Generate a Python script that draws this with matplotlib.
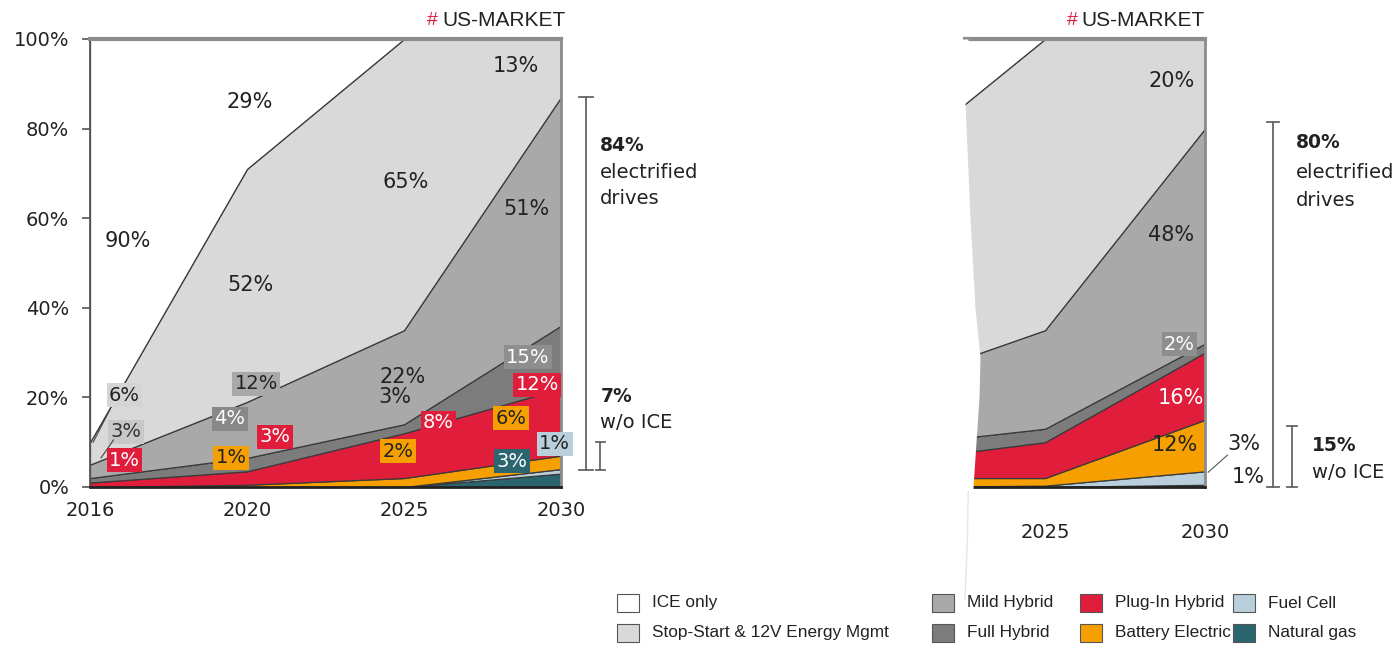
import matplotlib
matplotlib.use("Agg")
import matplotlib.pyplot as plt
from matplotlib.patches import Rectangle

# ---- data (share of US market, %) ----
series_names = ['Natural gas', 'Fuel Cell', 'Battery Electric', 'Plug-In Hybrid',
                'Full Hybrid', 'Mild Hybrid', 'Stop-Start & 12V Energy Mgmt', 'ICE only']
series_colors = ['#2b6670', '#b9cfdc', '#f5a000', '#e11d3c',
                 '#7c7c7c', '#a9a9a9', '#d9d9d9', '#ffffff']

years_left = ['2016', '2020', '2025', '2030']
natural_gas_left = [0, 0, 0, 3]
fuel_cell_left = [0, 0, 0, 1]
battery_left = [0, 0.5, 2, 3]
plugin_left = [1, 3, 10, 15]
full_hybrid_left = [1, 3, 2, 14]
mild_hybrid_left = [3, 12.5, 21, 51]
stop_start_left = [5, 52, 65, 13]
ice_left = [90, 29, 0, 0]

years_right = ['2020', '2025', '2030']
natural_gas_right = [0, 0, 0.5]
fuel_cell_right = [0, 0.3, 3]
battery_right = [2, 1.7, 11.5]
plugin_right = [3.5, 8, 15]
full_hybrid_right = [3.5, 3, 2]
mild_hybrid_right = [13.5, 22, 48]
stop_start_right = [48.5, 65, 20]
ice_right = [29, 0, 0]

# value labels: (text, x, y, text colour, box colour or None)
labels_left = [
    ('90%', 0.24, 55, '#222', None), ('29%', 1.02, 86, '#222', None),
    ('52%', 1.02, 45, '#222', None), ('65%', 2.01, 68, '#222', None),
    ('13%', 2.71, 94, '#222', None), ('51%', 2.78, 62, '#222', None),
    ('6%', 0.22, 20.5, '#222', '#d4d4d4'), ('3%', 0.23, 12.3, '#333', '#c8c8c8'),
    ('1%', 0.22, 6.0, 'white', '#e11d3c'), ('4%', 0.89, 15.2, 'white', '#888888'),
    ('12%', 1.06, 23, '#222', '#a9a9a9'), ('1%', 0.90, 6.5, '#222', '#f5a000'),
    ('3%', 1.18, 11.2, 'white', '#e11d3c'), ('22%', 1.99, 24.6, '#222', None),
    ('3%', 1.94, 20.1, '#222', None), ('2%', 1.96, 8.0, '#222', '#f5a000'),
    ('8%', 2.22, 14.3, 'white', '#e11d3c'), ('15%', 2.79, 29.0, 'white', '#8e8e8e'),
    ('12%', 2.85, 22.8, 'white', '#e11d3c'), ('6%', 2.68, 15.4, '#222', '#f5a000'),
    ('1%', 2.96, 9.6, '#222', '#b9cfdc'), ('3%', 2.69, 5.8, 'white', '#2b6670'),
]
labels_right = [
    ('20%', 2.79, 90.6, '#222', None), ('48%', 2.79, 56.3, '#222', None),
    ('2%', 2.84, 31.9, 'white', '#8e8e8e'), ('16%', 2.85, 19.9, 'white', None),
    ('12%', 2.81, 9.4, '#222', None), ('3%', 3.24, 9.6, '#222', None),
    ('1%', 3.27, 2.2, '#222', None),
]

W, H = 1394, 645
fig = plt.figure(figsize=(W / 100, H / 100), dpi=100)
ax1 = fig.add_axes([90 / W, 1 - 487 / H, 471 / W, 448 / H])
ax2 = fig.add_axes([965 / W, 1 - 487 / H, 240 / W, 448 / H])

left_stack = [natural_gas_left, fuel_cell_left, battery_left, plugin_left,
              full_hybrid_left, mild_hybrid_left, stop_start_left, ice_left]
right_stack = [natural_gas_right, fuel_cell_right, battery_right, plugin_right,
               full_hybrid_right, mild_hybrid_right, stop_start_right, ice_right]

x_left = list(range(len(years_left)))
x_right = list(range(1, 1 + len(years_right)))

for ax, xs, stack in [(ax1, x_left, left_stack), (ax2, x_right, right_stack)]:
    ax.stackplot(xs, *stack, colors=series_colors, edgecolor='#3a3a3a', linewidth=0.9)
    ax.set_ylim(0, 100)
    ax.axhline(100, color='#8c8c8c', lw=3, zorder=5, clip_on=False)
    for s in ['top', 'left']:
        ax.spines[s].set_visible(False)
    ax.spines['right'].set_color('#8c8c8c')
    ax.spines['right'].set_linewidth(2)
    ax.spines['bottom'].set_color('#222')
    ax.spines['bottom'].set_linewidth(2)

# left chart axes
ax1.set_xlim(0, 3)
ax1.set_xticks(x_left)
ax1.set_xticklabels(years_left)
ax1.tick_params(axis='x', length=0, pad=10, labelsize=14, labelcolor='#222')
ax1.spines['left'].set_visible(True)
ax1.spines['left'].set_color('#555')
ax1.spines['left'].set_linewidth(1.3)
ax1.set_yticks([0, 20, 40, 60, 80, 100])
ax1.set_yticklabels(['0%', '20%', '40%', '60%', '80%', '100%'])
ax1.tick_params(axis='y', length=6, width=1.2, color='#555', pad=9,
                labelsize=14, labelcolor='#222')

# right chart axes
ax2.set_xlim(1.5, 3)
ax2.set_xticks(x_right[1:])
ax2.set_xticklabels(years_right[1:])
ax2.tick_params(axis='x', length=0, pad=26, labelsize=14, labelcolor='#222')
ax2.set_yticks([])

# torn left edge of the right chart
edge_y = [100, 86, 60, 40, 29, 20, 10, 0, -2]
edge_px = [968, 965, 970, 975, 980, 979, 976, 973, 973]
edge_x = [1.5 + (p - 965) / 160 for p in edge_px]
ax2.fill_betweenx(edge_y, 1.4, edge_x, color='white', zorder=6, clip_on=False, lw=0)
ax2.plot([1.52, 1.515, 1.50], [-1, -12, -25], color='#e6e6e6', lw=1,
         clip_on=False, zorder=6)

# value labels
for ax, labels in [(ax1, labels_left), (ax2, labels_right)]:
    for txt, x, y, tc, bc in labels:
        kw = {}
        if bc is not None:
            kw['bbox'] = dict(boxstyle='square,pad=0.12', fc=bc, ec='none')
        ax.text(x, y, txt, ha='center', va='center', fontsize=14 if bc else 15,
                color=tc, zorder=7, clip_on=False, **kw)

# leader lines
ax1.plot([0.02, 0.13], [10, 17.5], color='#444', lw=0.8, zorder=7)
ax1.plot([0.07, 0.15], [6.5, 10.5], color='#444', lw=0.8, zorder=7)
ax2.plot([3.02, 3.14], [3.3, 7.1], color='#555', lw=0.8, clip_on=False, zorder=7)


def bracket(ax, x, y0, y1, cap):
    ax.plot([x, x], [y0, y1], color='#666', lw=1.3, clip_on=False)
    for y in (y0, y1):
        ax.plot([x - cap, x + cap], [y, y], color='#666', lw=1.3, clip_on=False)


bracket(ax1, 3.16, 3.8, 87, 0.045)
bracket(ax1, 3.25, 3.8, 10, 0.03)
ax1.text(3.25, 76.3, '84%', fontsize=13.5, fontweight='bold', color='#222', va='center')
ax1.text(3.25, 70.3, 'electrified', fontsize=14, color='#222', va='center')
ax1.text(3.25, 64.5, 'drives', fontsize=14, color='#222', va='center')
ax1.text(3.25, 20.1, '7%', fontsize=13.5, fontweight='bold', color='#222', va='center')
ax1.text(3.25, 14.3, 'w/o ICE', fontsize=14, color='#222', va='center')

bracket(ax2, 3.425, 0, 81.5, 0.04)
bracket(ax2, 3.544, 0, 13.6, 0.03)
ax2.text(3.57, 76.8, '80%', fontsize=13.5, fontweight='bold', color='#222', va='center')
ax2.text(3.57, 70.3, 'electrified', fontsize=14, color='#222', va='center')
ax2.text(3.57, 64.0, 'drives', fontsize=14, color='#222', va='center')
ax2.text(3.67, 9.2, '15%', fontsize=13.5, fontweight='bold', color='#222', va='center')
ax2.text(3.67, 3.3, 'w/o ICE', fontsize=14, color='#222', va='center')

# titles
for ax, xr in [(ax1, 1.009), (ax2, 1.0)]:
    t = ax.text(xr, 1.042, 'US-MARKET', transform=ax.transAxes, ha='right', va='center',
                fontsize=15, family='Liberation Sans', color='#222')
    ax.annotate('#', xy=(0, 0.5), xycoords=t, xytext=(-3, 0), textcoords='offset points',
                ha='right', va='center', fontsize=14, color='#e11d3c',
                family='Liberation Sans')

# legend, laid out by hand in four columns of two
legend_order = [7, 6, 5, 4, 3, 2, 1, 0]
col_px = [617, 932, 1080, 1233]
row_py = [603, 633]
for k, idx in enumerate(legend_order):
    col, row = k // 2, k % 2
    px, py = col_px[col], row_py[row]
    fig.add_artist(Rectangle((px / W, 1 - (py + 9) / H), 22 / W, 18 / H,
                             transform=fig.transFigure, fc=series_colors[idx],
                             ec='#555', lw=0.8))
    fig.text((px + 35) / W, 1 - py / H, series_names[idx], ha='left', va='center',
             fontsize=12.4, family='Liberation Sans', color='#222')

fig.savefig('out.png', dpi=100)
